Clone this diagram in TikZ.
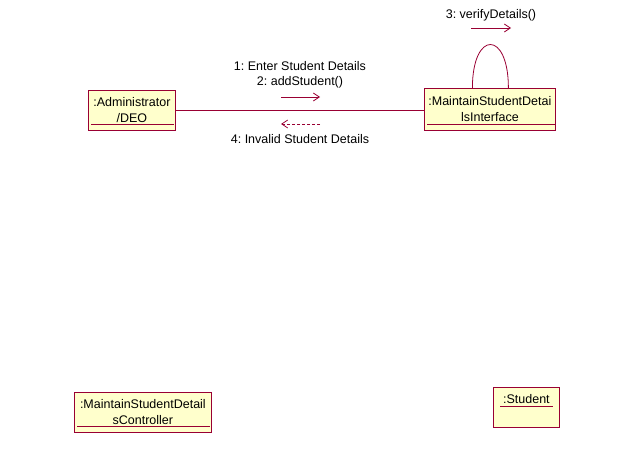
\documentclass[tikz,border=0pt]{standalone}
\usepackage{fontspec}
\setmainfont{Liberation Sans}
\usetikzlibrary{arrows.meta,calc,positioning}
\definecolor{umlred}{RGB}{153,0,51}
\definecolor{umlfill}{RGB}{255,255,204}
\frenchspacing

\begin{document}
\begin{tikzpicture}[x=1pt,y=-1pt,
    obj/.style={draw=umlred,fill=umlfill,line width=0.8pt,inner sep=0pt,anchor=north west,
      align=center,font=\fontsize{12.5}{16}\selectfont},
    msg/.style={umlred,line width=0.8pt,-{Straight Barb[length=6pt,width=8pt]}},
    lbl/.style={font=\fontsize{12.5}{15}\selectfont,align=center,inner sep=0pt}]
  \useasboundingbox (0,0) rectangle (640,452);

  % objects
  \node[obj,minimum width=87pt,minimum height=40pt] (adm) at (88,90) {:Administrator\\/DEO};
  \node[obj,minimum width=131pt,minimum height=42pt] (ifc) at (424,88) {:MaintainStudentDetai\\lsInterface};
  \node[obj,minimum width=137pt,minimum height=40pt] (ctl) at (74,392) {:MaintainStudentDetail\\sController};
  \node[obj,minimum width=66pt,minimum height=40pt] (stu) at (493,387) {:Student\\~};

  % underlines
  \draw[umlred,line width=0.8pt] ($(adm.south west)+(3,-6)$) -- ($(adm.south east)+(-2,-6)$);
  \draw[umlred,line width=0.8pt] ($(ifc.south west)+(3,-6)$) -- ($(ifc.south east)+(-1,-6)$);
  \draw[umlred,line width=0.8pt] ($(ctl.south west)+(3,-6)$) -- ($(ctl.south east)+(-2,-6)$);
  \draw[umlred,line width=0.8pt] ($(stu.south west)+(7,-21)$) -- ($(stu.south east)+(-7,-21)$);

  % links
  \draw[umlred,line width=0.8pt] (adm.east) -- (adm.east -| ifc.west);
  \draw[umlred,line width=0.8pt] ($(ifc.north)+(-17.5,0)$) .. controls ($(ifc.north)+(-17.5,-58)$)
    and ($(ifc.north)+(18.5,-58)$) .. ($(ifc.north)+(18.5,0)$);

  % messages
  \coordinate (m1a) at (281,97);
  \coordinate (m1b) at (320,97);
  \draw[msg] (m1a) -- (m1b);
  \node[lbl] (m1) at (300,74.5) {1: Enter Student Details\\2: addStudent()};

  \coordinate (m3a) at (471,28);
  \coordinate (m3b) at (511,28);
  \draw[msg] (m3a) -- (m3b);
  \node[lbl] (m3) at (491,15) {3: verifyDetails()};

  \coordinate (m4a) at (320,124);
  \coordinate (m4b) at (281,124);
  \draw[msg,dash pattern=on 3pt off 2pt] (m4a) -- (m4b);
  \node[lbl] (m4) at (300,139) {4: Invalid Student Details};
\end{tikzpicture}
\end{document}
